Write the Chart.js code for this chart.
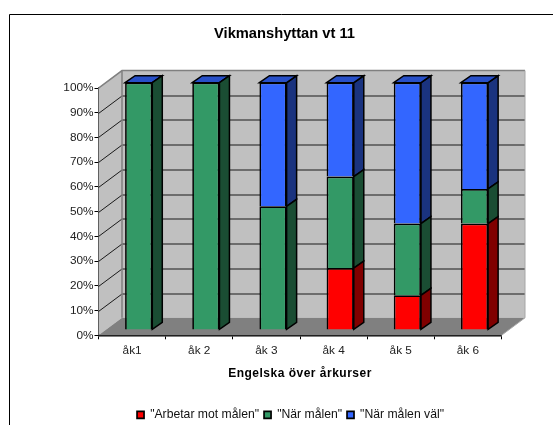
<!DOCTYPE html>
<html>
<head>
<meta charset="utf-8">
<style>html,body{margin:0;padding:0;background:#fff;overflow:hidden}canvas{display:block}</style>
<script src="https://cdn.jsdelivr.net/npm/chart.js@4"></script>
</head>
<body>
<canvas id="c" width="553" height="425"></canvas>
<script>
const titleText = 'Vikmanshyttan vt 11';
const axisTitleText = 'Engelska över årkurser';
const categories = ['åk1', 'åk 2', 'åk 3', 'åk 4', 'åk 5', 'åk 6'];
const seriesNames = ['"Arbetar mot målen"', '"När målen"', '"När målen väl"'];
const arbetar = [0, 0, 0, 25, 14, 43];
const nar = [100, 100, 50, 37, 29, 14];
const narVal = [0, 0, 50, 38, 57, 43];
const faceColors = ['#ff0000', '#339966', '#3366ff'];
const sideColors = ['#800000', '#1a4d33', '#1a337f'];
const topColor = '#2850c8';
const FONT = '"Liberation Sans", Arial, sans-serif';
const wallDepth = {x: 23.5, y: 17.5};
const barShift = {x: 6.6, y: -5.4};
const barDepth = {x: 10, y: 7};

function poly(ctx, pts, fill, stroke, lw) {
  ctx.beginPath();
  pts.forEach((p, i) => i ? ctx.lineTo(p[0], p[1]) : ctx.moveTo(p[0], p[1]));
  ctx.closePath();
  if (fill) { ctx.fillStyle = fill; ctx.fill(); }
  if (stroke) { ctx.strokeStyle = stroke; ctx.lineWidth = lw; ctx.stroke(); }
}

const scene = {
  id: 'scene',
  afterLayout(chart) {
    chart.legend.left += 8;
    chart.legend.right += 8;
    chart.titleBlock.left += 2;
    chart.titleBlock.right += 2;
    const xs = chart.scales.x;
    if (!xs._spaced) {
      const orig = xs.drawTitle.bind(xs);
      xs.drawTitle = function () {
        const ctx = chart.ctx;
        ctx.save();
        ctx.letterSpacing = '0.5px';
        orig();
        ctx.restore();
      };
      xs._spaced = true;
    }
  },
  beforeDraw(chart) {
    const ctx = chart.ctx;
    ctx.save();
    ctx.strokeStyle = '#000';
    ctx.lineWidth = 1;
    ctx.beginPath();
    ctx.moveTo(9.5, 425); ctx.lineTo(9.5, 14.5); ctx.lineTo(553, 14.5);
    ctx.stroke();
    ctx.restore();
  },
  beforeDatasetsDraw(chart) {
    const ctx = chart.ctx, y = chart.scales.y, a = chart.chartArea;
    const dx = wallDepth.x, dy = wallDepth.y;
    const l = a.left, r = a.right, t = y.getPixelForValue(100), b = y.getPixelForValue(0);
    ctx.save();
    poly(ctx, [[l + dx, t - dy], [r + dx, t - dy], [r + dx, b - dy], [l + dx, b - dy]], '#c0c0c0');
    poly(ctx, [[l, t], [l + dx, t - dy], [l + dx, b - dy], [l, b]], '#c0c0c0');
    poly(ctx, [[l, b], [l + dx, b - dy], [r + dx, b - dy], [r, b]], '#808080');
    ctx.strokeStyle = '#1a1a1a';
    ctx.lineWidth = 1;
    y.ticks.forEach(tk => {
      if (tk.value === 0 || tk.value === 100) return;
      const py = Math.round(y.getPixelForValue(tk.value)) + 0.5;
      ctx.beginPath();
      ctx.moveTo(l, py);
      ctx.lineTo(l + dx, py - dy);
      ctx.lineTo(r + dx, py - dy);
      ctx.stroke();
    });
    ctx.strokeStyle = '#808080';
    ctx.lineWidth = 1.5;
    ctx.beginPath();
    ctx.moveTo(l, t); ctx.lineTo(l + dx, t - dy); ctx.lineTo(r + dx, t - dy);
    ctx.moveTo(l + dx, t - dy); ctx.lineTo(l + dx, b - dy);
    ctx.stroke();
    ctx.strokeStyle = '#a6a6a6';
    ctx.lineWidth = 1;
    ctx.beginPath();
    ctx.moveTo(r + dx, t - dy); ctx.lineTo(r + dx, b - dy); ctx.lineTo(r, b);
    ctx.stroke();
    ctx.restore();
  },
  beforeDatasetDraw(chart) {
    chart.ctx.save();
    chart.ctx.translate(barShift.x, barShift.y);
  },
  afterDatasetDraw(chart, args) {
    const ctx = chart.ctx, i = args.index, meta = args.meta;
    const dx = barDepth.x, dy = barDepth.y;
    meta.data.forEach(el => {
      const h = el.width / 2, xl = el.x - h, xr = el.x + h;
      if (Math.abs(el.base - el.y) > 0.5) {
        poly(ctx, [[xr, el.y], [xr + dx, el.y - dy], [xr + dx, el.base - dy], [xr, el.base]], sideColors[i], '#000', 1.5);
      }
      if (i === faceColors.length - 1) {
        poly(ctx, [[xl, el.y], [xl + dx, el.y - dy], [xr + dx, el.y - dy], [xr, el.y]], topColor, '#000', 1.5);
      }
    });
    ctx.restore();
  }
};

const makeSet = (label, data, i) => ({
  label, data,
  backgroundColor: faceColors[i],
  borderColor: '#000',
  borderWidth: 1.7
});

new Chart(document.getElementById('c'), {
  type: 'bar',
  data: {
    labels: categories,
    datasets: [makeSet(seriesNames[0], arbetar, 0), makeSet(seriesNames[1], nar, 1), makeSet(seriesNames[2], narVal, 2)]
  },
  plugins: [scene],
  options: {
    responsive: false,
    animation: false,
    events: [],
    categoryPercentage: 1,
    barPercentage: 0.405,
    layout: {padding: {left: 63.5, right: 51.5, top: 25, bottom: -6}},
    font: {family: FONT},
    plugins: {
      title: {
        display: true, text: titleText, color: '#000',
        font: {family: FONT, size: 14.7, weight: 'bold'},
        padding: {top: 0, bottom: 45.4}
      },
      legend: {
        position: 'bottom',
        labels: {
          boxWidth: 7, boxHeight: 7, padding: 5, color: '#111',
          font: {family: FONT, size: 12.2}
        }
      },
      tooltip: {enabled: false}
    },
    scales: {
      x: {
        stacked: true,
        offset: true,
        afterFit: s => { s.height = 68.5; },
        grid: {drawOnChartArea: false, drawTicks: true, tickLength: 4, color: '#000', offset: true},
        border: {display: true, color: '#000', width: 1.5},
        ticks: {color: '#222', padding: 4, maxRotation: 0, font: {family: FONT, size: 11.8}},
        title: {
          display: true, text: axisTitleText, color: '#000',
          font: {family: FONT, size: 12, weight: 'bold'},
          padding: {top: 0, bottom: 23}
        }
      },
      y: {
        stacked: true,
        min: 0, max: 100,
        afterFit: s => { s.width = 35; },
        grid: {drawOnChartArea: false, drawTicks: true, tickLength: 4, color: '#000'},
        border: {display: true, color: '#000', width: 1.5},
        ticks: {stepSize: 10, color: '#222', padding: 1, font: {family: FONT, size: 11.8}, callback: v => v + '%'}
      }
    }
  }
});
</script>
</body>
</html>
